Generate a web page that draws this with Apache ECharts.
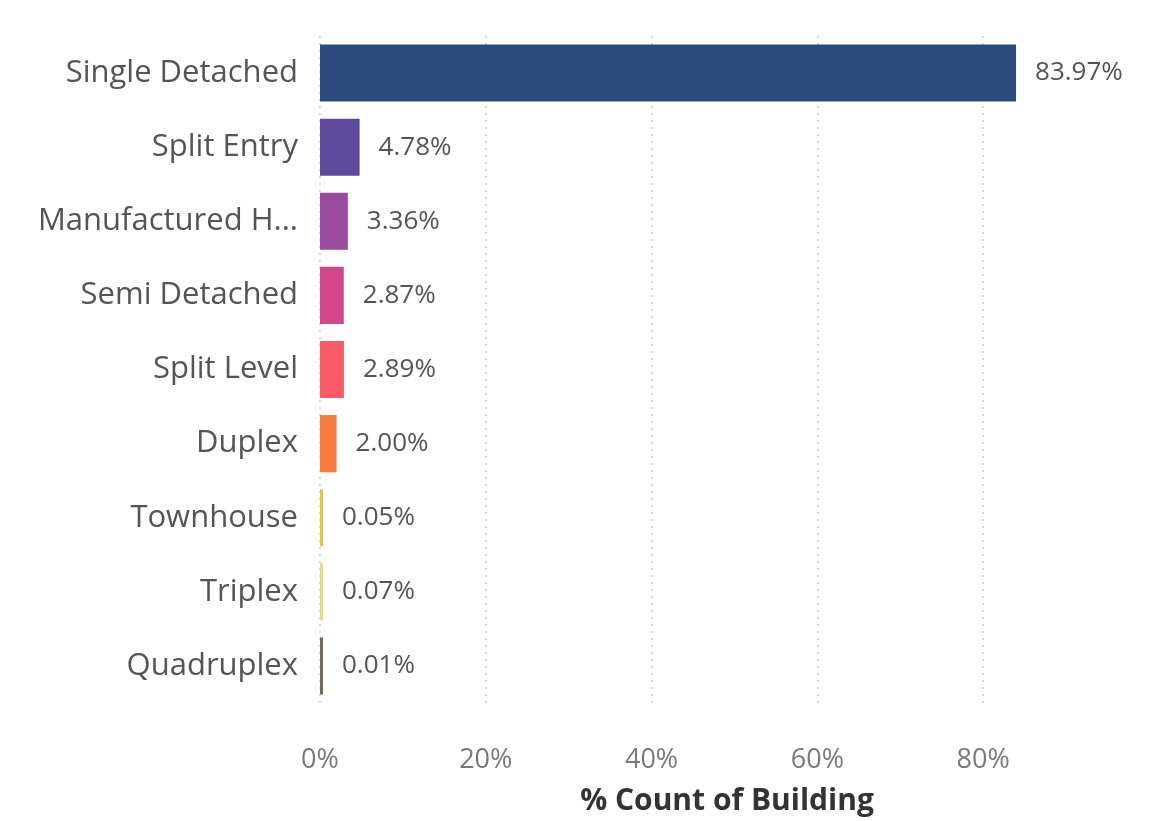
<!DOCTYPE html>
<html><head><meta charset="utf-8">
<script src="https://cdn.jsdelivr.net/npm/echarts@6/dist/echarts.min.js"></script>
<style>html,body{margin:0;padding:0;background:#fff;}#c{width:1164px;height:821px;}</style>
</head><body><div id="c"></div>
<script>
const categories = ['Single Detached','Split Entry','Manufactured H...','Semi Detached','Split Level','Duplex','Townhouse','Triplex','Quadruplex'];
const values = [83.97, 4.78, 3.36, 2.87, 2.89, 2.00, 0.05, 0.07, 0.01];
const colors = ['#2b4a7e','#5d4a9d','#9a4a9f','#d2468c','#f95b67','#fb7a3f','#e9c53c','#e8dc7a','#6f6a55'];
const tickValues = [0, 20, 40, 60, 80];

const chart = echarts.init(document.getElementById('c'));
chart.setOption({
  animation: false,
  grid: { left: 320, top: 36, width: 814, height: 672, containLabel: false },
  xAxis: {
    type: 'value', min: 0, max: 98.2, interval: 20,
    name: '% Count of Building', nameLocation: 'middle', nameGap: 83,
    nameTextStyle: { fontFamily: 'Open Sans', fontSize: 30, fontWeight: 'bold', color: '#333' },
    axisLine: { show: false }, axisTick: { show: false },
    axisLabel: { showMaxLabel: false, margin: 44, fontFamily: 'Open Sans', fontSize: 27, color: '#7a7a7a',
      formatter: v => tickValues.indexOf(v) >= 0 ? v + '%' : '' },
    splitLine: { show: true, showMaxLine: false, lineStyle: { type: [2, 5], color: '#cccccc', width: 1.5 } }
  },
  yAxis: {
    type: 'category', data: categories, inverse: true,
    axisLine: { show: false }, axisTick: { show: false },
    axisLabel: { margin: 22, fontFamily: 'Open Sans', fontSize: 31, color: '#555' }
  },
  series: [{
    type: 'bar', barCategoryGap: '23%', barMinHeight: 3,
    data: values.map((v, i) => ({ value: v, itemStyle: { color: colors[i] } })),
    label: { show: true, position: 'right', distance: 19, fontFamily: 'Open Sans', fontSize: 26, color: '#555',
      formatter: p => p.value.toFixed(2) + '%' }
  }]
});
</script></body></html>
